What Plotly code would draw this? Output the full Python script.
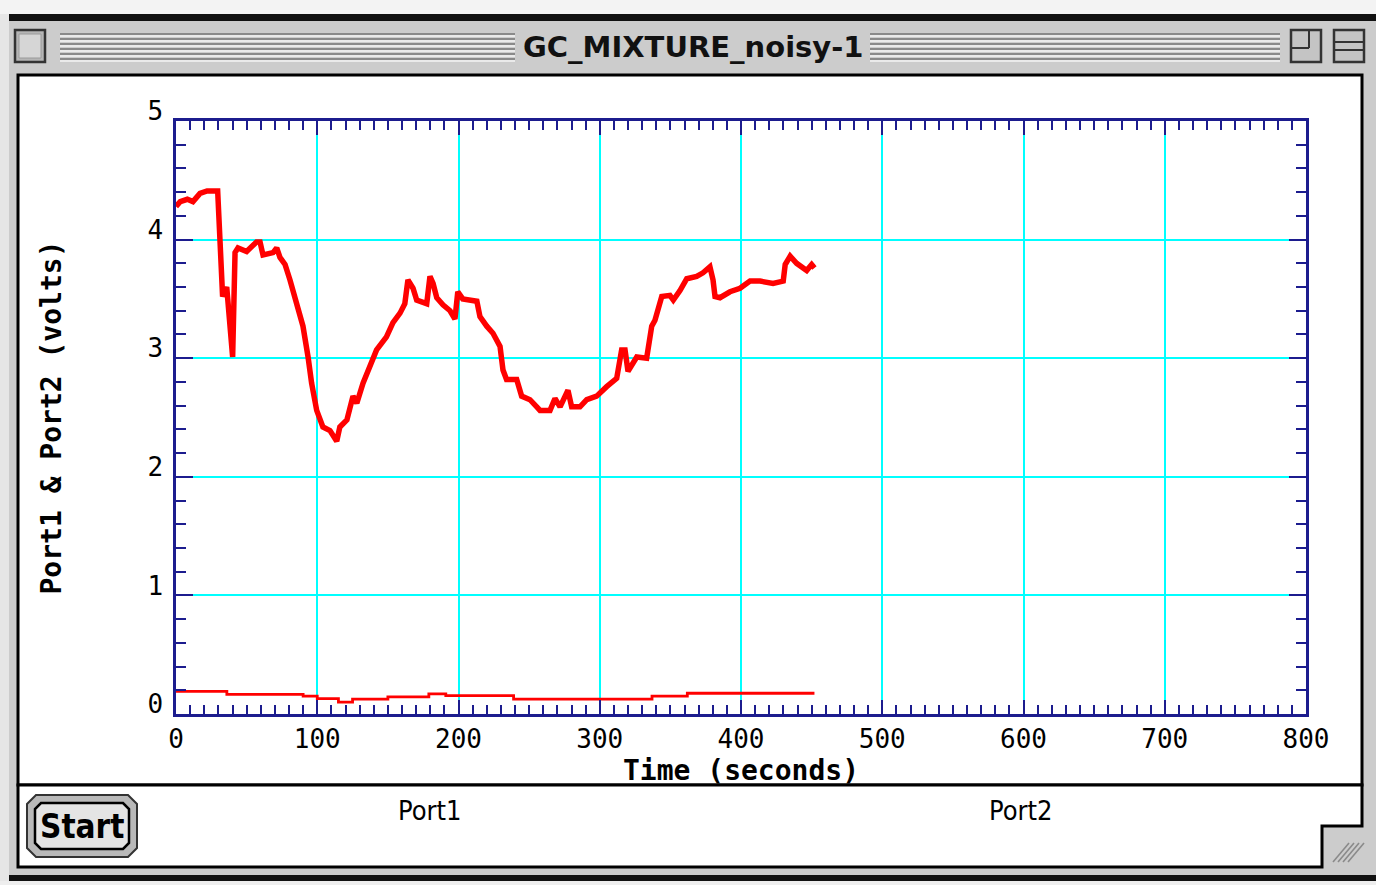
import plotly.graph_objects as go

# ---------------- data ----------------
port1_time = [0, 3, 8, 12, 17, 22, 29.5, 30.5, 32.4, 33, 35.9, 36.8, 38.2, 40.1, 41.8, 43.9,
              50, 57, 59.5, 61.6, 68.7, 71.3, 73.6, 77.2, 80.7, 85.5, 89.9, 93.5, 96, 99.6,
              104, 109, 113.8, 116, 121, 125.3, 128, 132.4, 137.3, 142, 149, 153.6, 158.6,
              162, 164.2, 167.8, 170.4, 177.5, 179.8, 182, 184.6, 189, 194, 197.5, 199.5,
              203, 213, 215.2, 220, 224.4, 229.4, 231.5, 234, 241.2, 244.7, 250.6, 255.4,
              257.7, 264.8, 268.3, 271.9, 277.5, 280.1, 286, 290.8, 297.8, 304.9, 312,
              315.5, 317.9, 320, 326.2, 333.2, 336.8, 339.1, 343.9, 349.7, 352.1, 356.8,
              361.6, 368.6, 373.1, 378, 380.2, 381.6, 385.1, 392.2, 399.3, 406.4, 413.5,
              422.7, 429.9, 431.3, 434.8, 439.4, 446.5, 450, 452]
port1_volts = [4.28, 4.32, 4.34, 4.32, 4.39, 4.41, 4.41, 4.10, 3.80, 3.52, 3.60, 3.46, 3.18, 3.01,
               3.89, 3.93, 3.90, 3.98, 3.98, 3.87, 3.89, 3.93, 3.85, 3.79, 3.66, 3.46, 3.27,
               3.01, 2.79, 2.56, 2.42, 2.39, 2.30, 2.42, 2.48, 2.68, 2.62, 2.79, 2.93, 3.07,
               3.18, 3.30, 3.38, 3.46, 3.66, 3.59, 3.49, 3.46, 3.69, 3.63, 3.51, 3.45, 3.40,
               3.33, 3.56, 3.50, 3.48, 3.35, 3.27, 3.21, 3.10, 2.90, 2.82, 2.82, 2.68, 2.65,
               2.59, 2.56, 2.56, 2.66, 2.59, 2.73, 2.59, 2.59, 2.65, 2.68, 2.76, 2.83, 3.07,
               3.07, 2.89, 3.01, 3.00, 3.27, 3.32, 3.52, 3.53, 3.49, 3.57, 3.67, 3.69, 3.72,
               3.77, 3.66, 3.52, 3.51, 3.56, 3.59, 3.65, 3.65, 3.63, 3.65, 3.79, 3.86, 3.80,
               3.74, 3.79, 3.76]

port2_time = [0, 36, 90, 100, 115, 125, 150, 179, 191, 239, 337, 362, 452]
port2_volts = [0.19, 0.165, 0.15, 0.13, 0.10, 0.125, 0.145, 0.17, 0.155, 0.125, 0.15, 0.175, 0.175]

x_range = [0, 800]
y_range = [0, 5]
window_title = "GC_MIXTURE_noisy-1"
x_title = "Time (seconds)"
y_title = "Port1 & Port2 (volts)"
panel_labels = ["Port1", "Port2"]
button_label = "Start"

# ---------------- geometry helpers (pixel -> paper) ----------------
FIG_W, FIG_H = 1376, 885
L, R, T, B = 176, 1306, 121, 714
PW, PH = R - L, B - T


def px(x):
    return (x - L) / PW


def py(y):
    return (B - y) / PH


def rect(x0, y0, x1, y1, fill=None, line=None, lw=0):
    return dict(type="rect", xref="paper", yref="paper", layer="below",
                x0=px(x0), x1=px(x1), y0=py(y1), y1=py(y0),
                fillcolor=fill if fill else "rgba(0,0,0,0)",
                line=dict(color=line if line else "rgba(0,0,0,0)", width=lw))


def seg(x0, y0, x1, y1, color, lw):
    return dict(type="line", xref="paper", yref="paper", layer="below",
                x0=px(x0), x1=px(x1), y0=py(y0), y1=py(y1),
                line=dict(color=color, width=lw))


def path(points, fill, line, lw, close=True):
    d = "M " + " L ".join(f"{px(x):.5f},{py(y):.5f}" for x, y in points)
    if close:
        d += " Z"
    return dict(type="path", xref="paper", yref="paper", layer="below", path=d,
                fillcolor=fill, line=dict(color=line, width=lw))


def rounded(x0, y0, x1, y1, r):
    return [(x0 + r, y0), (x1 - r, y0), (x1, y0 + r), (x1, y1 - r), (x1 - r, y1),
            (x0 + r, y1), (x0, y1 - r), (x0, y0 + r)]


NAVY = "#1c1c8e"
shapes = []
# desktop strip + window frame edges
shapes.append(rect(0, 0, 1376, 14, fill="#f3f3f3"))
shapes.append(rect(0, 14, 9, 885, fill="#e6e6e6"))
shapes.append(rect(9, 14, 1376, 21, fill="#111111"))
shapes.append(rect(9, 875, 1376, 881, fill="#111111"))
shapes.append(rect(0, 881, 1376, 885, fill="#eeeeee"))
# title bar stripes
for yy in [34, 39, 44, 49, 54, 59]:
    for xa, xb in [(60, 515), (870, 1280)]:
        shapes.append(seg(xa, yy, xb, yy, "#8a8a8a", 1.8))
        shapes.append(seg(xa, yy + 2, xb, yy + 2, "#f4f4f4", 1.4))
# close box
shapes.append(rect(15, 30, 45, 62, fill="#b5b5b5", line="#333333", lw=2.5))
shapes.append(rect(19, 34, 41, 58, fill="#d6d6d6", line="#9a9a9a", lw=1))
# zoom box
shapes.append(rect(1291, 30, 1321, 62, fill="#c4c4c4", line="#333333", lw=2.5))
shapes.append(seg(1309, 31, 1309, 48, "#333333", 2))
shapes.append(seg(1292, 48, 1309, 48, "#333333", 2))
# collapse box
shapes.append(rect(1334, 30, 1364, 62, fill="#c4c4c4", line="#333333", lw=2.5))
shapes.append(seg(1335, 42, 1363, 42, "#333333", 2))
shapes.append(seg(1335, 50, 1363, 50, "#333333", 2))
# content area
shapes.append(rect(18, 75, 1362, 785, fill="#ffffff", line="#000000", lw=3))
# bottom panel (notched for grow box)
shapes.append(path([(18, 785), (1362, 785), (1362, 826), (1322, 826), (1322, 867), (18, 867)],
                   "#ffffff", "#000000", 3))
# grow box hatch
for k in range(4):
    shapes.append(seg(1333 + 5 * k, 862, 1349 + 5 * k, 843, "#8a8a8a", 1.6))
# start button
shapes.append(path(rounded(27, 795, 137, 857, 9), "#b9b9b9", "#333333", 2))
shapes.append(path(rounded(35, 803, 129, 849, 6), "#e4e4e4", "#000000", 2.5))

annotations = [
    dict(text=window_title, xref="paper", yref="paper", x=px(693), y=py(47),
         xanchor="center", yanchor="middle", showarrow=False,
         font=dict(family="DejaVu Sans", size=29, color="#111111", weight="bold")),
    dict(text=button_label, xref="paper", yref="paper", x=px(82), y=py(826),
         xanchor="center", yanchor="middle", showarrow=False,
         font=dict(family="DejaVu Sans Condensed, DejaVu Sans", size=33, color="#000000",
                   weight="bold")),
    dict(text=panel_labels[0], xref="paper", yref="paper", x=px(430), y=py(810),
         xanchor="center", yanchor="middle", showarrow=False,
         font=dict(family="DejaVu Sans Condensed, DejaVu Sans", size=27, color="#000000")),
    dict(text=panel_labels[1], xref="paper", yref="paper", x=px(1021), y=py(810),
         xanchor="center", yanchor="middle", showarrow=False,
         font=dict(family="DejaVu Sans Condensed, DejaVu Sans", size=27, color="#000000")),
]

fig = go.Figure()
fig.add_trace(go.Scatter(x=port2_time, y=port2_volts, mode="lines", name="Port2",
                         line=dict(color="#ff0000", width=2.8, shape="hv")))
fig.add_trace(go.Scatter(x=port1_time, y=port1_volts, mode="lines", name="Port1",
                         line=dict(color="#ff0000", width=5.5)))

tickfont = dict(family="DejaVu Sans Mono", size=26, color="#000000")
titlefont = dict(family="DejaVu Sans Mono", size=28, color="#000000", weight="bold")

fig.update_layout(
    width=FIG_W, height=FIG_H, autosize=False,
    margin=dict(l=L, r=FIG_W - R, t=T, b=FIG_H - B, autoexpand=False),
    paper_bgcolor="#cccccc", plot_bgcolor="rgba(0,0,0,0)",
    showlegend=False, shapes=shapes, annotations=annotations,
    xaxis=dict(range=x_range, tick0=0, dtick=100, showgrid=True, gridcolor="#00ffff",
               gridwidth=2, zeroline=False, showline=True, linecolor=NAVY, linewidth=2.5,
               mirror="allticks", ticks="inside", ticklen=14, tickwidth=2, tickcolor=NAVY,
               minor=dict(dtick=10, ticks="inside", ticklen=9, tickwidth=2,
                          tickcolor=NAVY, showgrid=False),
               tickfont=tickfont, ticklabelstandoff=0, automargin=False,
               title=dict(text=x_title, font=titlefont, standoff=0)),
    yaxis=dict(range=y_range, tick0=0, dtick=1, showgrid=True, gridcolor="#00ffff",
               gridwidth=2, zeroline=False, showline=True, linecolor=NAVY, linewidth=2.5,
               mirror="allticks", ticks="inside", ticklen=17, tickwidth=2, tickcolor=NAVY,
               minor=dict(dtick=0.2, ticks="inside", ticklen=10, tickwidth=2,
                          tickcolor=NAVY, showgrid=False),
               tickfont=tickfont, ticklabelstandoff=5, ticklabelshift=-10, automargin=False,
               title=dict(text=y_title, font=titlefont, standoff=78)),
)

fig.write_html("out.html", config={"displayModeBar": False},
               post_script="document.body.style.margin='0px';"
                           "document.body.style.overflow='hidden';")
